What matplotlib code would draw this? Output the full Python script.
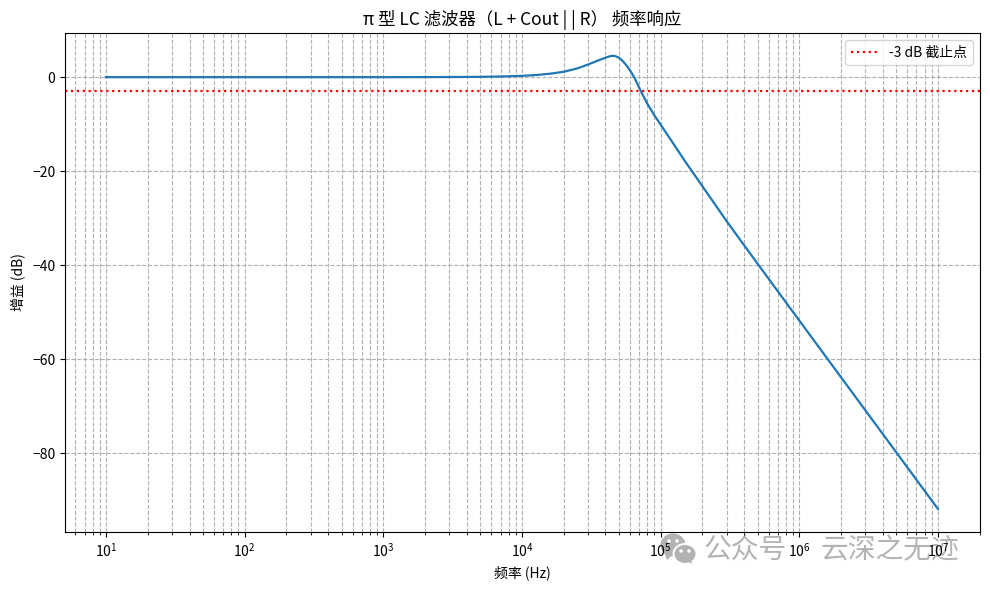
import matplotlib
matplotlib.use("Agg")
import matplotlib.pyplot as plt
from matplotlib.patches import Ellipse, Polygon

plt.rcParams['font.family'] = ['Noto Sans CJK SC', 'DejaVu Sans']

freq = [10, 100, 1000, 3000, 5000, 7000, 10000, 13000, 16000, 20000, 25000, 30000, 35000, 40000,
        43000, 45000, 47000, 50000, 53000, 56000, 60000, 65000, 72000, 80000, 90000, 100000,
        120000, 150000, 200000, 300000, 500000, 1000000, 10000000]
gain = [0, 0, 0, 0.03, 0.07, 0.14, 0.28, 0.48, 0.74, 1.15, 1.85, 2.7, 3.5, 4.15,
        4.45, 4.55, 4.5, 4.15, 3.5, 2.7, 1.5, -0.2, -3.0, -5.6, -8.1, -10.1,
        -13.6, -17.9, -23.2, -30.7, -39.7, -51.8, -91.9]

fig = plt.figure(figsize=(9.9, 5.9), dpi=100)
ax = fig.add_axes([65/990, 1-532/590, 915/990, 499/590])

ax.semilogx(freq, gain, color='#1f77b4', lw=1.6)
ax.axhline(-3, color='red', ls=':', lw=1.6, label='-3 dB 截止点')
ax.set_xlim(5.06, 2.01e7)
ax.set_ylim(-96.8, 9.4)
ax.grid(True, which='both', ls='--', color='#b0b0b0', lw=0.8)
ax.set_axisbelow(True)
ax.set_title('π 型 LC 滤波器（L + Cout | | R） 频率响应', fontsize=12.5)
ax.set_xlabel('频率 (Hz)', fontsize=10)
ax.set_ylabel('增益 (dB)', fontsize=10)
ax.legend(loc='upper right', fontsize=10)

# watermark, in figure pixels, under the axes so the tick labels stay on top
wm = '#b3b3b3'
def px_xy(x, y):
    return x/990, 1-y/590
def bubble(x, y, w, h, tail, face=wm):
    fig.add_artist(Ellipse(px_xy(x, y), w/990, h/590, transform=fig.transFigure, fc=face, ec='none', zorder=-2))
    fig.add_artist(Polygon([px_xy(*p) for p in tail], transform=fig.transFigure, fc=face, ec='none', zorder=-2))
bubble(673, 545, 25, 23, [(664, 552), (667, 560), (672, 555)])
bubble(685, 554, 25, 22, [(685, 562), (692, 565), (691, 561)], face='white')
bubble(685, 554, 21, 18, [(687, 561), (692, 564), (691, 560)])
for x, y in [(669, 541), (677, 541), (681, 551), (689, 551)]:
    fig.add_artist(Ellipse(px_xy(x, y), 3.5/990, 3.5/590, transform=fig.transFigure, fc='white', ec='none', zorder=-1))
fig.text(704/990, 1-550/590, '公众号', fontsize=20, color=wm, va='center', zorder=-1)
fig.text(820/990, 1-550/590, '云深之无迹', fontsize=20, color=wm, va='center', zorder=-1)

fig.savefig('out.png', dpi=100)
